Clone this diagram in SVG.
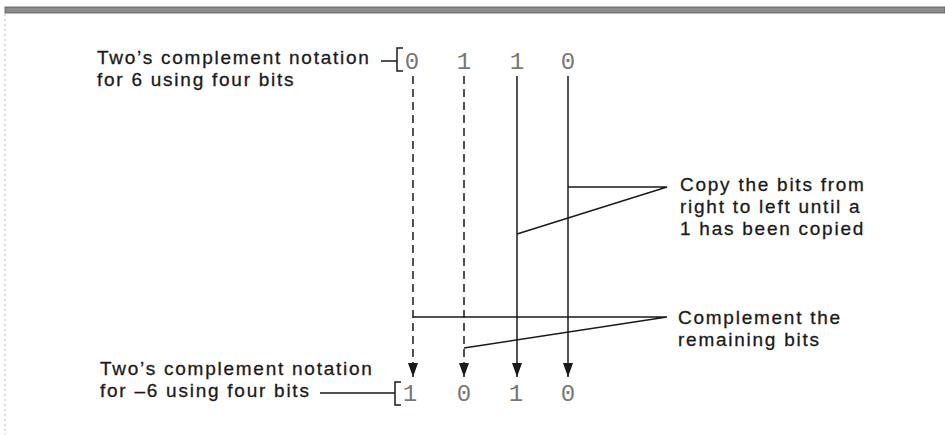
<svg xmlns="http://www.w3.org/2000/svg" width="945" height="435" viewBox="0 0 945 435">
<defs>
<style>
.lbl{font-family:"Liberation Sans",Arial,sans-serif;font-size:19px;letter-spacing:1.75px;fill:#1a1a1a;stroke:#1a1a1a;stroke-width:0.3}
.bit{font-family:"Liberation Mono","Courier New",monospace;font-size:24px;fill:#777;text-anchor:middle}
.ln{stroke:#1a1a1a;stroke-width:1.5;fill:none}
.dash{stroke-dasharray:8 5}
</style>
<marker id="ah" markerWidth="14" markerHeight="10" refX="14" refY="5" orient="auto" markerUnits="userSpaceOnUse" viewBox="0 0 14 10">
<path d="M0,0 L14,5 L0,10 Z" fill="#1a1a1a"/>
</marker>
</defs>
<rect x="0" y="0" width="945" height="435" fill="#ffffff"/>
<rect x="5" y="7" width="940" height="6" fill="#8c8c8c" stroke="#555" stroke-width="0.8"/>
<line x1="5" y1="14" x2="5" y2="435" stroke="#bbb" stroke-width="1" stroke-dasharray="2 3"/>

<g id="top-label">
<text class="lbl" x="97" y="64">Two’s complement notation</text>
<text class="lbl" x="97" y="86">for 6 using four bits</text>
<path class="ln" d="M381,61 H397 M403,48 H397 V71 H403"/>
</g>
<g id="top-bits">
<text class="bit" x="412" y="69">0</text>
<text class="bit" x="464" y="69">1</text>
<text class="bit" x="517" y="69">1</text>
<text class="bit" x="568" y="69">0</text>
</g>
<g id="copy-label">
<text class="lbl" x="680" y="191">Copy the bits from</text>
<text class="lbl" x="680" y="213">right to left until a</text>
<text class="lbl" x="680" y="235">1 has been copied</text>
</g>
<g id="complement-label">
<text class="lbl" x="678" y="324">Complement the</text>
<text class="lbl" x="678" y="346">remaining bits</text>
</g>
<g id="bottom-label">
<text class="lbl" x="100" y="375">Two’s complement notation</text>
<text class="lbl" x="100" y="397">for –6 using four bits</text>
<path class="ln" d="M320,393 H395 M401,382 H395 V405 H401"/>
</g>
<g id="bottom-bits">
<text class="bit" x="410" y="401">1</text>
<text class="bit" x="464" y="401">0</text>
<text class="bit" x="516" y="401">1</text>
<text class="bit" x="568" y="401">0</text>
</g>
<g id="connectors">
<line class="ln dash" x1="413" y1="76" x2="413" y2="377" marker-end="url(#ah)"/>
<line class="ln dash" x1="464" y1="76" x2="464" y2="377" marker-end="url(#ah)"/>
<line class="ln" x1="517" y1="76" x2="517" y2="377" marker-end="url(#ah)"/>
<line class="ln" x1="568" y1="76" x2="568" y2="377" marker-end="url(#ah)"/>
<path class="ln" d="M568,187 H667 L517,234"/>
<path class="ln" d="M413,317 H667 L464,348"/>
</g>
</svg>
